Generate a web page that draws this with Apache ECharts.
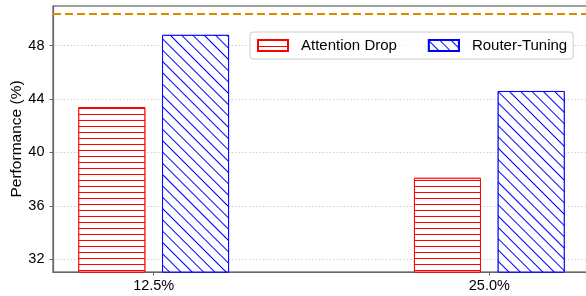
<!DOCTYPE html>
<html style="height: 100%">
<head>
    <meta charset="utf-8">
    <style type="text/css">
        .box{width: 586px;height:296px;}
    </style>
</head>
<body style="height: 100%; margin: 0">
<div class="box" id="container"></div>
<script src="https://cdn.jsdelivr.net/npm/echarts@6/dist/echarts.min.js"></script>
<script type="text/javascript">
    var categories = ['12.5%', '25.0%'];
    var attentionDrop = [43.4, 38.1];
    var routerTuning = [48.8, 44.6];
    var referenceLine = 50.36;
    var yTicks = [32, 36, 40, 44, 48];

    var font = 'Liberation Sans';
    var dom = document.getElementById("container");
    var myChart = echarts.init(dom);

    function pairs(vals) {
        return vals.map(function (v, i) { return [i, v]; });
    }

    var option = {
        backgroundColor: '#ffffff',
        animation: false,
        textStyle: { fontFamily: font },
        grid: {
            left: 53, top: 6, right: -4, bottom: 24,
            show: true,
            borderColor: '#7f7f7f',
            borderWidth: 1.5,
            containLabel: false,
            outerBoundsMode: 'none'
        },
        legend: {
            left: 250,
            top: 32,
            padding: [6, 6, 6, 7],
            itemWidth: 30,
            itemHeight: 11,
            itemGap: 31,
            borderColor: '#cccccc',
            borderWidth: 1,
            borderRadius: 3,
            backgroundColor: 'rgba(255,255,255,0.8)',
            icon: 'rect',
            textStyle: { fontSize: 15, color: '#000', fontFamily: font, padding: [0, 0, 0, 8] },
            data: ['Attention Drop', 'Router-Tuning']
        },
        xAxis: {
            type: 'value',
            min: -0.3,
            max: 1.3,
            splitLine: { show: false },
            axisLine: { onZero: false, lineStyle: { color: '#666', width: 1.2 } },
            axisTick: { show: true, length: 3.5, customValues: [0, 1], lineStyle: { color: '#666' } },
            axisLabel: {
                customValues: [0, 1],
                margin: 6,
                fontSize: 14.5,
                color: '#000',
                formatter: function (v) { return categories[Math.round(v)]; }
            }
        },
        yAxis: {
            type: 'value',
            min: 31.05,
            max: 50.96,
            name: 'Performance (%)',
            nameLocation: 'middle',
            nameGap: 28,
            nameMoveOverlap: false,
            nameTextStyle: { fontSize: 15.5, color: '#000', fontFamily: font },
            axisLine: { show: true, onZero: false, lineStyle: { color: '#666', width: 1.2 } },
            axisTick: { show: true, length: 3.5, customValues: yTicks, lineStyle: { color: '#666' } },
            axisLabel: { customValues: yTicks, margin: 8.5, fontSize: 14.5, color: '#000' },
            splitLine: { show: true, lineStyle: { color: '#c8c8c8', type: [1.5, 2], width: 0.9 } }
        },
        series: [
            {
                name: 'Attention Drop',
                type: 'bar',
                barWidth: 67,
                barGap: '25%',
                data: pairs(attentionDrop),
                itemStyle: {
                    color: '#ffffff',
                    borderColor: '#ff0000',
                    borderWidth: 1,
                    decal: {
                        symbol: 'rect',
                        symbolSize: 1,
                        color: '#ff0000',
                        backgroundColor: '#ffffff',
                        dashArrayX: [1, 0],
                        dashArrayY: [1, 4.5],
                        rotation: 0
                    }
                },
                markLine: {
                    silent: true,
                    symbol: 'none',
                    label: { show: false },
                    lineStyle: { color: '#dd8a00', type: [8, 4], width: 2 },
                    data: [{ yAxis: referenceLine }]
                }
            },
            {
                name: 'Router-Tuning',
                type: 'bar',
                barWidth: 67,
                barGap: '25%',
                data: pairs(routerTuning),
                itemStyle: {
                    color: '#ffffff',
                    borderColor: '#0000ff',
                    borderWidth: 1,
                    decal: {
                        symbol: 'rect',
                        symbolSize: 1,
                        color: '#0000ff',
                        backgroundColor: '#ffffff',
                        dashArrayX: [1, 0],
                        dashArrayY: [1, 6.8],
                        rotation: Math.PI / 4
                    }
                }
            }
        ]
    };
    myChart.setOption(option, true);
</script>
</body>
</html>
